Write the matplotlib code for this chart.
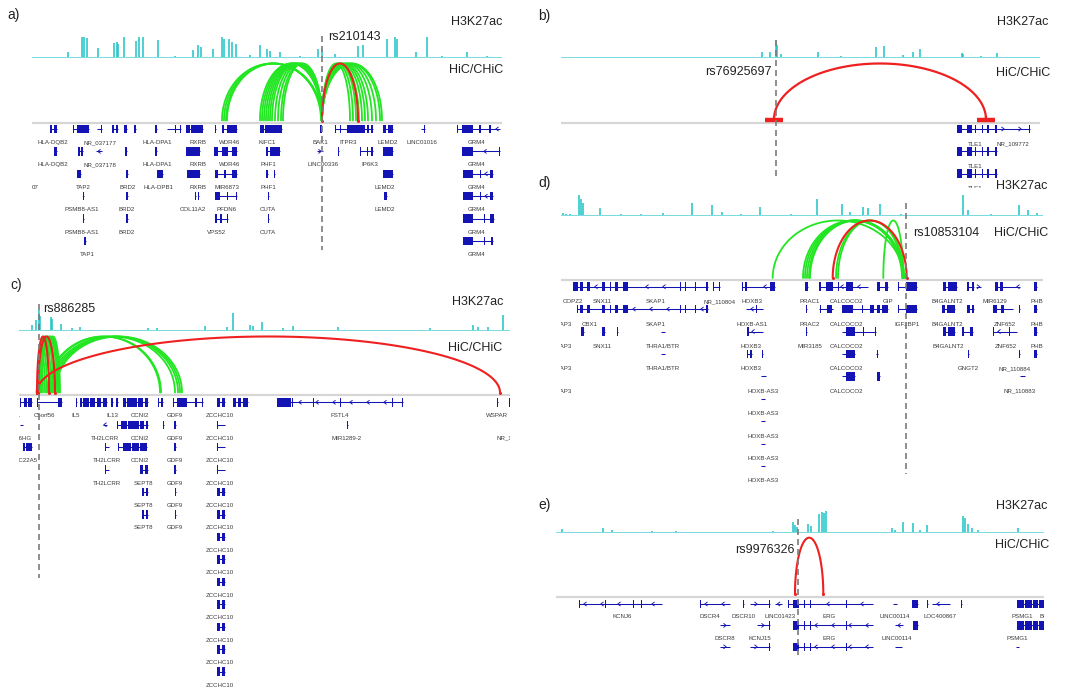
import numpy as np
import matplotlib
matplotlib.use("Agg")
import matplotlib.pyplot as plt

plt.rcParams['font.family'] = ['Liberation Sans', 'DejaVu Sans']

W, H = 1092, 691
CYAN = '#1cc3c8'
GREEN = '#22e622'
RED = '#ee2020'
BLUE = '#1414b4'
DASH = '#7c7c7c'
RULE = '#d6d6d6'
TEXT = '#222222'
GLABEL = '#3a3a3a'

# ---------------------------------------------------------------- panel a
A_PEAK_POS = [8, 36, 50, 52, 55, 66, 82, 85, 86, 92, 104, 107, 111, 126, 143, 161, 166, 169,
              181, 190, 192, 197, 200, 204, 218, 228, 235, 238, 248, 268, 286, 290, 303, 326,
              331, 355, 363, 365, 384, 395, 410, 435, 455]
A_PEAK_H = [0.8, 5.7, 20, 20, 19, 9, 14.7, 15, 13, 20, 16, 20, 20, 17, 1.5, 7, 12, 10,
            8, 20, 18, 18, 15, 13, 2, 12, 8, 6, 5, 1.5, 8, 8, 3, 11,
            12, 18, 20, 18, 5, 20, 1, 5, 1]
A_SNP = 289.7
A_SNP_NAME = 'rs210143'
A_GREEN = [(190, 290), (192, 290), (194, 290), (195, 289),
           (228, 290), (230, 290), (232, 290), (234, 290), (236, 290), (238, 290),
           (240, 290), (243, 290), (246, 290), (249, 290), (251, 290),
           (290, 318), (290, 321), (290, 324), (290, 327), (290, 330), (290, 333),
           (290, 336), (290, 340), (290, 344), (290, 348), (290, 350)]
A_RED = [(290, 326)]
A_GENES = [
    (0, 18, 25, '', [(18, 20), (22, 25)]),
    (0, 41, 57, '', [(41, 42), (45, 57)]),
    (0, 65, 70, '-', [(69, 70)]),
    (0, 80, 86, '', [(80, 82), (84, 86)]),
    (0, 92, 95, '', [(92, 95)]),
    (0, 102, 104, '', [(102, 104)]),
    (0, 123, 125, '', [(123, 125)]),
    (0, 135, 149, '-', [(143, 144), (148, 149)]),
    (0, 154, 171, '', [(154, 158), (159, 171)]),
    (0, 183, 184, '', [(183, 184)]),
    (0, 190, 205, '', [(190, 192), (195, 205)]),
    (0, 228, 250, '', [(228, 232), (233, 250)]),
    (0, 288, 290, '', [(288, 290)]),
    (0, 303, 341, '', [(303, 304), (308, 309), (315, 333), (335, 337), (339, 341)]),
    (0, 351, 361, '', [(351, 354), (356, 361)]),
    (0, 389, 393, '-', [(392, 393)]),
    (0, 425, 468, '-', [(425, 426), (430, 441), (447, 449), (457, 459)]),
    (1, 22, 25, '', [(22, 25)]),
    (1, 46, 51, '', [(46, 48), (49, 51)]),
    (1, 64, 70, '-', []),
    (1, 93, 95, '', [(93, 95)]),
    (1, 123, 125, '', [(123, 125)]),
    (1, 154, 168, '', [(154, 168)]),
    (1, 182, 205, '', [(182, 186), (190, 196), (200, 205)]),
    (1, 234, 248, '', [(234, 236), (238, 248)]),
    (1, 285, 291, '+', []),
    (1, 306, 307, '', [(306, 307)]),
    (1, 328, 341, '', [(328, 329), (335, 336), (339, 341)]),
    (1, 351, 361, '', [(351, 361)]),
    (1, 430, 468, '-', [(430, 441), (467, 468)]),
    (2, 45, 49, '', [(45, 49)]),
    (2, 94, 96, '', [(94, 96)]),
    (2, 125, 131, '', [(125, 131)]),
    (2, 155, 168, '', [(155, 168)]),
    (2, 183, 205, '', [(183, 186), (192, 194), (200, 205)]),
    (2, 234, 236, '', [(234, 236)]),
    (2, 242, 243, '', [(242, 243)]),
    (2, 351, 361, '', [(351, 361)]),
    (2, 431, 461, '-', [(431, 441), (448, 449), (458, 461)]),
    (3, 51, 52, '', [(51, 52)]),
    (3, 94, 96, '', [(94, 96)]),
    (3, 163, 164, '', [(163, 164)]),
    (3, 166, 167, '', [(166, 167)]),
    (3, 183, 205, '', [(183, 188), (195, 196), (204, 205)]),
    (3, 236, 237, '', [(236, 237)]),
    (3, 352, 355, '', [(352, 355)]),
    (3, 431, 461, '-', [(431, 441), (448, 449), (458, 461)]),
    (4, 51, 52, '', [(51, 52)]),
    (4, 94, 96, '', [(94, 96)]),
    (4, 183, 196, '', [(183, 185), (188, 190), (195, 196)]),
    (4, 236, 237, '', [(236, 237)]),
    (4, 431, 462, '', [(431, 441), (452, 453), (458, 462)]),
    (5, 52, 54, '', [(52, 54)]),
    (5, 431, 461, '', [(431, 441), (452, 453), (459, 461)]),
]
A_LABELS = [
    (0, 21, 'HLA-DQB2'), (0, 68, 'NR_037177'), (0, 125, 'HLA-DPA1'), (0, 166, 'RXRB'),
    (0, 198, 'WDR46'), (0, 235, 'KIFC1'), (0, 288, 'BAK1'), (0, 316, 'ITPR3'),
    (0, 356, 'LEMD2'), (0, 390, 'LINC01016'), (0, 445, 'GRM4'),
    (1, 21, 'HLA-DQB2'), (1, 68, 'NR_037178'), (1, 125, 'HLA-DPA1'), (1, 166, 'RXRB'),
    (1, 198, 'WDR46'), (1, 236, 'PHF1'), (1, 291, 'LINC00336'), (1, 338, 'IP6K3'),
    (1, 445, 'GRM4'),
    (2, 3, '07'), (2, 51, 'TAP2'), (2, 96, 'BRD2'), (2, 126, 'HLA-DPB1'), (2, 166, 'RXRB'),
    (2, 195, 'MIR6873'), (2, 236, 'PHF1'), (2, 353, 'LEMD2'), (2, 445, 'GRM4'),
    (3, 50, 'PSMB8-AS1'), (3, 95, 'BRD2'), (3, 161, 'COL11A2'), (3, 195, 'PFDN6'),
    (3, 236, 'CUTA'), (3, 353, 'LEMD2'), (3, 445, 'GRM4'),
    (4, 50, 'PSMB8-AS1'), (4, 95, 'BRD2'), (4, 185, 'VPS52'), (4, 236, 'CUTA'),
    (4, 445, 'GRM4'),
    (5, 55, 'TAP1'), (5, 445, 'GRM4'),
]

# ---------------------------------------------------------------- panel b
B_PEAK_POS = [60, 140, 200.7, 209, 214.7, 215.5, 219.7, 257.3, 280, 315, 323.3, 342.3,
              352.3, 359, 380, 400.7, 401.5, 420, 435.7, 460]
B_PEAK_H = [0.8, 0.8, 5.7, 5, 17, 12, 3, 5, 1, 10, 11, 2,
            5, 8, 0.8, 4, 3, 1, 4, 0.7]
B_SNP = 215
B_SNP_NAME = 'rs76925697'
B_LOOPS = [((204, 222), (416, 434))]
B_TLE1_EXONS = [(396, 401), (406, 411), (414, 415), (421, 422), (426, 428), (434, 436)]
B_GENES = [
    (0, 396, 436, '', B_TLE1_EXONS),
    (0, 436, 469, '+', [(468, 469)]),
    (1, 396, 436, '', B_TLE1_EXONS),
    (2, 396, 436, '', B_TLE1_EXONS),
]
B_LABELS = [(0, 414, 'TLE1'), (0, 452, 'NR_109772'), (1, 414, 'TLE1'), (2, 414, 'TLE1')]

# ---------------------------------------------------------------- panel c
C_PEAK_POS = [12.7, 16.7, 20.3, 21.3, 31.7, 33, 42, 52.7, 61, 129, 137.7, 186, 207.7, 213.7,
              231, 234.3, 242.7, 264.3, 274.3, 319.3, 411, 454.3, 459.3, 469.3, 483.7]
C_PEAK_H = [5, 10, 20, 14, 13, 11, 6, 2, 3, 2, 2, 4, 3, 17,
            5, 4, 8, 2, 4, 3, 2, 5, 3, 3, 15]
C_SNP = 20.3
C_SNP_NAME = 'rs886285'
C_GREEN = [(19, 32), (20, 34), (21, 36), (22, 38), (23, 39), (25, 40), (27, 41),
           (28, 141), (29, 142), (30, 156), (32, 159), (34, 161), (36, 163)]
C_RED = [(18, 30), (19, 36), (17.7, 481)]
C_ZCCHC10_ROWS = list(range(4, 13))
C_GENES = [
    (0, 1, 13, '', [(1, 2), (5, 8), (9, 13)]),
    (0, 18, 43, '', [(18, 19), (39, 43)]),
    (0, 57, 58, '', [(57, 58)]),
    (0, 61, 88, '', [(61, 63), (64, 70), (71, 76), (78, 82), (84, 88)]),
    (0, 92, 94, '', [(92, 94)]),
    (0, 97, 99, '', [(97, 99)]),
    (0, 104, 129, '', [(104, 107), (108, 118), (119, 124), (126, 129)]),
    (0, 139, 144, '', [(139, 140), (142, 144)]),
    (0, 154, 184, '', [(154, 155), (158, 168), (176, 178), (183, 184)]),
    (0, 198, 206, '', [(198, 201), (203, 206)]),
    (0, 214, 229, '', [(214, 217), (219, 222), (224, 229)]),
    (0, 258, 384, '-', [(258, 272), (273, 274), (294, 295), (321, 322), (373, 374), (383, 384)]),
    (0, 478, 479, '', [(478, 479)]),
    (0, 490, 491, '', [(490, 491)]),
    (1, 1, 4, '', []),
    (1, 84, 88, '-', []),
    (1, 98, 129, '', [(98, 99), (102, 108), (109, 120), (121, 125), (127, 129)]),
    (1, 144, 145, '', [(144, 145)]),
    (1, 155, 157, '', [(155, 157)]),
    (1, 198, 206, '', [(198, 199)]),
    (1, 328, 329, '', [(328, 329)]),
    (2, 4, 13, '', [(4, 6), (7, 13)]),
    (2, 86, 90, '', [(86, 87)]),
    (2, 99, 128, '', [(99, 100), (104, 112), (113, 120), (121, 128)]),
    (2, 155, 157, '', [(155, 157)]),
    (2, 198, 206, '', [(198, 199)]),
    (3, 86, 90, '', [(86, 87)]),
    (3, 121, 129, '', [(121, 124), (126, 129)]),
    (3, 155, 157, '', [(155, 157)]),
    (3, 198, 206, '', [(198, 199)]),
    (4, 123, 129, '', [(123, 125), (127, 129)]),
    (4, 156, 157, '', [(156, 157)]),
    (5, 123, 129, '', [(123, 125), (127, 129)]),
    (5, 156, 157, '', [(156, 157)]),
] + [(r, 198, 206, '', [(198, 201), (203, 206)]) for r in C_ZCCHC10_ROWS]
C_LABELS = [
    (0, -5, 'IRF1'), (0, 26, 'C5orf56'), (0, 57, 'IL5'), (0, 93, 'IL13'), (0, 121, 'CCNI2'),
    (0, 156, 'GDF9'), (0, 201, 'ZCCHC10'), (0, 321, 'FSTL4'), (0, 478, 'WSPAR'),
    (1, -4, 'MIR3936HG'), (1, 86, 'TH2LCRR'), (1, 121, 'CCNI2'), (1, 156, 'GDF9'),
    (1, 201, 'ZCCHC10'), (1, 328, 'MIR1289-2'), (1, 493, 'NR_110811'),
    (2, 6, 'SLC22A5'), (2, 88, 'TH2LCRR'), (2, 121, 'CCNI2'), (2, 156, 'GDF9'), (2, 201, 'ZCCHC10'),
    (3, 88, 'TH2LCRR'), (3, 124, 'SEPT8'), (3, 156, 'GDF9'), (3, 201, 'ZCCHC10'),
    (4, 124, 'SEPT8'), (4, 156, 'GDF9'),
    (5, 124, 'SEPT8'), (5, 156, 'GDF9'),
] + [(r, 201, 'ZCCHC10') for r in C_ZCCHC10_ROWS]

# ---------------------------------------------------------------- panel d
D_PEAK_POS = [2, 5, 9, 18.3, 19.7, 21.7, 39, 60, 80, 102.3, 130.7, 150.7, 160.7, 180, 199,
              230, 255.7, 280.7, 289, 301.7, 307.3, 319, 340, 401.7, 407.3, 430, 458, 467.3, 475.7]
D_PEAK_H = [2, 1.5, 1.5, 20, 16, 12, 7, 0.8, 0.8, 2, 12, 10, 3, 0.6, 8,
            0.8, 16, 11, 3, 8, 7, 11, 0.6, 20, 5, 0.6, 10, 5, 2]
D_SNP = 344.7
D_SNP_NAME = 'rs10853104'
D_GREEN = [(211.7, 342.3), (242, 342), (244, 342), (246, 343), (248, 341), (249, 342),
           (275, 343), (277, 342), (322.3, 342.3)]
D_RED = [(271.7, 345.7)]
D_HOXB_AS3_ROWS = [5, 6, 7, 8]
D_SKAP1_EXONS = [(19, 22), (26, 29), (41, 44), (49, 50), (54, 57), (62, 67),
                 (119, 120), (124, 125), (134, 135), (145, 147)]
D_GENES = [
    (0, 12, 147, '-', [(12, 17)] + D_SKAP1_EXONS),
    (0, 152, 159, '', [(152, 153), (158, 159)]),
    (0, 181, 214, '-', [(181, 182), (184, 186), (209, 214)]),
    (0, 244, 247, '', [(244, 247)]),
    (0, 258, 307, '-', [(258, 260), (265, 272), (277, 278), (285, 292)]),
    (0, 316, 327, '', [(316, 319), (324, 327)]),
    (0, 337, 356, '', [(337, 338), (345, 356)]),
    (0, 382, 396, '', [(382, 385), (387, 396)]),
    (0, 406, 413, '', [(406, 408), (411, 413)]),
    (0, 415, 420, '+', []),
    (0, 434, 459, '-', [(434, 437), (439, 442)]),
    (0, 473, 476, '', [(473, 476)]),
    (1, 16, 147, '-', [(16, 17)] + D_SKAP1_EXONS),
    (1, 185, 202, '-', [(195, 196)]),
    (1, 245, 246, '', [(245, 246)]),
    (1, 258, 272, '', [(259, 260), (266, 271)]),
    (1, 281, 327, '', [(281, 292), (301, 302), (309, 313), (316, 319), (321, 327)]),
    (1, 337, 356, '', [(337, 338), (345, 356)]),
    (1, 381, 394, '', [(381, 384), (386, 394)]),
    (1, 406, 413, '', [(406, 409), (411, 413)]),
    (1, 432, 452, '-', [(432, 436), (440, 443)]),
    (1, 458, 459, '', [(458, 459)]),
    (1, 473, 476, '', [(473, 476)]),
    (2, 20, 23, '', [(20, 23)]),
    (2, 41, 44, '', [(41, 44)]),
    (2, 56, 57, '', [(56, 57)]),
    (2, 100, 104, '', []),
    (2, 186, 202, '-', [(186, 188)]),
    (2, 245, 246, '', [(245, 246)]),
    (2, 281, 315, '', [(285, 294), (302, 303), (314, 315)]),
    (2, 382, 394, '', [(382, 385), (387, 394)]),
    (2, 401, 412, '', [(401, 403), (409, 412)]),
    (2, 432, 456, '-', [(432, 433), (448, 449)]),
    (2, 473, 476, '', [(473, 476)]),
    (3, 100, 104, '', []),
    (3, 186, 191, '', [(186, 187), (189, 191)]),
    (3, 201, 202, '', [(201, 202)]),
    (3, 281, 294, '', [(285, 294)]),
    (3, 315, 317, '', [(315.5, 316.5)]),
    (3, 407, 408, '', [(407, 408)]),
    (3, 458, 459, '', [(458, 459)]),
    (3, 473, 476, '', [(473, 476)]),
    (4, 200, 205, '', []),
    (4, 281, 294, '', [(285, 294)]),
    (4, 316, 319, '', [(316, 319)]),
    (4, 459, 464, '', []),
] + [(r, 200, 204, '', []) for r in D_HOXB_AS3_ROWS]
D_LABELS = [
    (0, 12, 'COPZ2'), (0, 41, 'SNX11'), (0, 95, 'SKAP1'), (0, 159, 'NR_110804'),
    (0, 191, 'HOXB3'), (0, 249, 'PRAC1'), (0, 286, 'CALCOCO2'), (0, 327, 'GIP'),
    (0, 386, 'B4GALNT2'), (0, 434, 'MIR6129'), (0, 476, 'PHB'),
    (1, -5, 'CDK5RAP3'), (1, 29, 'CBX1'), (1, 95, 'SKAP1'), (1, 191, 'HOXB-AS1'),
    (1, 249, 'PRAC2'), (1, 286, 'CALCOCO2'), (1, 346, 'IGF2BP1'), (1, 386, 'B4GALNT2'),
    (1, 444, 'ZNF652'), (1, 476, 'PHB'),
    (2, -5, 'CDK5RAP3'), (2, 41, 'SNX11'), (2, 102, 'THRA1/BTR'), (2, 190, 'HOXB3'),
    (2, 249, 'MIR3185'), (2, 286, 'CALCOCO2'), (2, 387, 'B4GALNT2'), (2, 445, 'ZNF652'),
    (2, 476, 'PHB'),
    (3, -5, 'CDK5RAP3'), (3, 102, 'THRA1/BTR'), (3, 190, 'HOXB3'), (3, 286, 'CALCOCO2'),
    (3, 407, 'GNGT2'), (3, 454, 'NR_110884'),
    (4, -5, 'CDK5RAP3'), (4, 202, 'HOXB-AS3'), (4, 286, 'CALCOCO2'), (4, 459, 'NR_110883'),
] + [(r, 202, 'HOXB-AS3') for r in D_HOXB_AS3_ROWS]

# ---------------------------------------------------------------- panel e
E_PEAK_POS = [5.7, 47.3, 55.7, 96, 120, 217.3, 236.7, 239, 241.3, 252.3, 254.7, 263.3,
              265.7, 268, 270, 335.7, 339, 347.3, 356.7, 364, 370.7, 406.7, 409, 412.3,
              415.7, 422.3, 462.3]
E_PEAK_H = [3, 4, 2, 0.8, 0.8, 1, 10, 7, 5, 8, 6, 18,
            20, 19, 21, 4, 2, 10, 9, 2, 7, 16, 14, 8,
            4, 2, 4]
E_SNP = 242.3
E_SNP_NAME = 'rs9976326'
E_GREEN = []
E_RED = [(239, 267.3)]
E_ERG_EXONS = [(237, 243), (248, 249), (254, 255), (290, 291)]
E_PSMG1_EXONS = [(461, 468), (469, 476), (477, 482), (483, 488)]
E_GENES = [
    (0, 23, 106, '-', [(23, 24), (49, 50), (77, 78), (85, 86)]),
    (0, 144, 174, '-', [(144, 145)]),
    (0, 187, 188, '', [(187, 188)]),
    (0, 194, 214, '+', [(213, 214)]),
    (0, 219, 226, '-', []),
    (0, 232, 317, '-', [(232, 233)] + E_ERG_EXONS),
    (0, 337, 341, '', []),
    (0, 356, 362, '', [(356, 362)]),
    (0, 371, 372, '', [(371, 372)]),
    (0, 376, 394, '-', []),
    (0, 405, 406, '', [(405, 406)]),
    (0, 461, 488, '', E_PSMG1_EXONS),
    (1, 164, 174, '+', []),
    (1, 201, 214, '+', [(213, 214)]),
    (1, 237, 317, '-', E_ERG_EXONS),
    (1, 339, 347, '-', []),
    (1, 357, 362, '', [(357, 362)]),
    (1, 461, 488, '', E_PSMG1_EXONS),
    (2, 164, 174, '+', []),
    (2, 194, 214, '+', [(213, 214)]),
    (2, 237, 317, '-', E_ERG_EXONS),
    (2, 339, 346, '', []),
    (2, 460, 463, '', []),
]
E_LABELS = [
    (0, 66, 'KCNJ6'), (0, 154, 'DSCR4'), (0, 187, 'DSCR10'), (0, 224, 'LINC01423'),
    (0, 273, 'ERG'), (0, 339, 'LINC00114'), (0, 384, 'LOC400867'), (0, 466, 'PSMG1'),
    (0, 494, 'BRWD1'),
    (1, 169, 'DSCR8'), (1, 204, 'KCNJ15'), (1, 273, 'ERG'), (1, 341, 'LINC00114'),
    (1, 461, 'PSMG1'),
]

# ---------------------------------------------------------------- layout (figure pixels)
LAYOUTS = {
    'a': dict(box=(32, 28, 502, 262), base=57.3, arc_base=120.5, arc_top=63.5, rule=122.5,
              row0=129, pitch=22.4, label_dy=13.4, snp_y=(36, 250),
              tag=(7, 15), h3=(502, 22), hic=(503, 70), rs=('left', 6, 37)),
    'b': dict(box=(561, 28, 1040, 196), base=57.3, arc_base=119.5, arc_top=63.5, rule=122.5,
              row0=129, pitch=22.3, label_dy=15, snp_y=(40, 178),
              tag=(538, 16), h3=(1048, 22), hic=(1050, 72.5), rs=('right', -4, 72)),
    'c': dict(box=(19, 295, 510, 690), base=330, arc_base=392.5, arc_top=336.5, rule=394.5,
              row0=402.3, pitch=22.45, label_dy=13.4, snp_y=(304, 578),
              tag=(10, 285), h3=(503, 302), hic=(502, 348), rs=('left', 4, 309)),
    'd': dict(box=(561, 188, 1043, 490), base=215, arc_base=278, arc_top=220.5, rule=280,
              row0=286.7, pitch=22.4, label_dy=15, snp_y=(203, 474),
              tag=(538, 183), h3=(1047, 186), hic=(1048, 233), rs=('left', 7, 233)),
    'e': dict(box=(556, 500, 1044, 660), base=531.7, arc_base=594, arc_top=537.7, rule=596.5,
              row0=604, pitch=21.4, label_dy=12.7, snp_y=(519, 658),
              tag=(538, 505), h3=(1047, 506), hic=(1049, 545), rs=('right', -3.5, 550)),
}

EXON_H = 8.5
CHEVRON_STEP = 17
fig = plt.figure(figsize=(W / 100, H / 100), dpi=100)
fig.patch.set_facecolor('white')


def fx(x):
    return x / W


def fy(y):
    return 1 - y / H


def panel_axes(lay, z):
    left, top, right, bottom = lay['box']
    ax = fig.add_axes([fx(left), fy(bottom), (right - left) / W, (bottom - top) / H])
    ax.set_xlim(0, right - left)
    ax.set_ylim(bottom, top)
    ax.set_xticks([])
    ax.set_yticks([])
    for s in ax.spines.values():
        s.set_visible(False)
    ax.set_facecolor('white')
    ax.set_zorder(z)
    return ax


def draw_arc(ax, a, b, color, lay, lw=1.3):
    t = np.linspace(0, np.pi, 120)
    mid, half = (a + b) / 2, (b - a) / 2
    ax.plot(mid - half * np.cos(t),
            lay['arc_base'] - (lay['arc_base'] - lay['arc_top']) * np.sin(t),
            color=color, lw=lw, solid_capstyle='round', zorder=3)


def draw_gene(ax, y, start, end, strand, exons):
    ax.plot([start, end], [y, y], color=BLUE, lw=0.75, solid_capstyle='butt', zorder=2)
    if exons:
        ax.broken_barh([(s, e - s) for s, e in exons], (y - EXON_H / 2, EXON_H),
                       facecolors=BLUE, edgecolors='none', zorder=2)
    if strand:
        sgn = 1 if strand == '+' else -1
        span = end - start
        step = CHEVRON_STEP if span > 12 else max(span, 1)
        for p in np.arange(start + min(6, span / 2), end - 1, step):
            if any(s - 2.5 <= p <= e + 2.5 for s, e in exons):
                continue
            ax.plot([p - 1.2 * sgn, p + 1.2 * sgn, p - 1.2 * sgn], [y - 1.8, y, y + 1.8],
                    color=BLUE, lw=0.65, zorder=2)


def draw_panel(key, peak_pos, peak_h, green, red, genes, labels, snp, snp_name,
               loops=None, z=1):
    lay = LAYOUTS[key]
    ax = panel_axes(lay, z)
    width = ax.get_xlim()[1]
    base = lay['base']
    ax.plot([0, width], [base, base], color=CYAN, lw=0.7, alpha=0.6, zorder=1)
    ax.vlines(peak_pos, base, base - np.asarray(peak_h), color=CYAN, lw=1.1, zorder=1)
    ax.plot([0, width], [lay['rule'], lay['rule']], color=RULE, lw=1.6, zorder=1)

    for a, b in green:
        draw_arc(ax, a, b, GREEN, lay)
    for a, b in red:
        draw_arc(ax, a, b, RED, lay, lw=1.5)
        ax.plot([a, b], [lay['arc_base'], lay['arc_base']], 'o', color=RED, ms=2.2,
                mec='none', zorder=3)
    if loops:
        for (a0, a1), (b0, b1) in loops:
            draw_arc(ax, (a0 + a1) / 2, (b0 + b1) / 2, RED, lay, lw=1.6)
            for s, e in ((a0, a1), (b0, b1)):
                ax.plot([s, e], [lay['arc_base'], lay['arc_base']], color=RED, lw=3.2,
                        solid_capstyle='butt', zorder=3)
                ax.plot([(s + e) / 2] * 2, [lay['arc_base'] - 3, lay['arc_base']],
                        color=RED, lw=1.6, zorder=3)

    for row, start, end, strand, exons in genes:
        draw_gene(ax, lay['row0'] + row * lay['pitch'], start, end, strand, exons)
    for row, pos, name in labels:
        ax.text(pos, lay['row0'] + row * lay['pitch'] + lay['label_dy'], name,
                ha='center', va='center', fontsize=4.4, color=GLABEL, clip_on=True)

    y0, y1 = lay['snp_y']
    ax.plot([snp, snp], [y0, y1], color=DASH, lw=1.2, dashes=(3.6, 2.4), zorder=4,
            clip_on=False)
    side, off, ry = lay['rs']
    ax.text(snp + off, ry, snp_name, ha=side, va='center', fontsize=9, color=TEXT,
            clip_on=False, zorder=5)

    fig.text(fx(lay['tag'][0]), fy(lay['tag'][1]), key + ')', ha='left', va='center',
             fontsize=10, color=TEXT)
    fig.text(fx(lay['h3'][0]), fy(lay['h3'][1]), 'H3K27ac', ha='right', va='center',
             fontsize=9, color=TEXT)
    fig.text(fx(lay['hic'][0]), fy(lay['hic'][1]), 'HiC/CHiC', ha='right', va='center',
             fontsize=9, color=TEXT)
    return ax


draw_panel('a', A_PEAK_POS, A_PEAK_H, A_GREEN, A_RED, A_GENES, A_LABELS, A_SNP, A_SNP_NAME)
draw_panel('b', B_PEAK_POS, B_PEAK_H, [], [], B_GENES, B_LABELS, B_SNP, B_SNP_NAME,
           loops=B_LOOPS, z=1)
draw_panel('c', C_PEAK_POS, C_PEAK_H, C_GREEN, C_RED, C_GENES, C_LABELS, C_SNP, C_SNP_NAME)
draw_panel('d', D_PEAK_POS, D_PEAK_H, D_GREEN, D_RED, D_GENES, D_LABELS, D_SNP, D_SNP_NAME,
           z=2)
draw_panel('e', E_PEAK_POS, E_PEAK_H, E_GREEN, E_RED, E_GENES, E_LABELS, E_SNP, E_SNP_NAME)

fig.savefig('out.png', dpi=100, facecolor='white')
